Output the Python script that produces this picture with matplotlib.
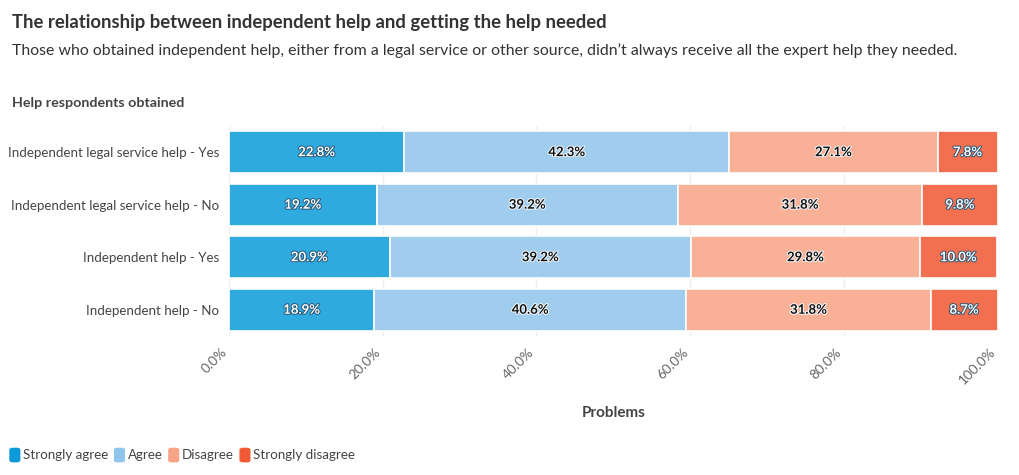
import matplotlib
matplotlib.use("Agg")
import matplotlib.pyplot as plt
import matplotlib.patheffects as pe
from matplotlib.patches import FancyBboxPatch
from matplotlib.ticker import PercentFormatter

plt.rcParams["font.family"] = ["Lato", "DejaVu Sans"]

categories = [
    "Independent legal service help - Yes",
    "Independent legal service help - No",
    "Independent help - Yes",
    "Independent help - No",
]
series = ["Strongly agree", "Agree", "Disagree", "Strongly disagree"]
strongly_agree = [22.8, 19.2, 20.9, 18.9]
agree = [42.3, 39.2, 39.2, 40.6]
disagree = [27.1, 31.8, 29.8, 31.8]
strongly_disagree = [7.8, 9.8, 10.0, 8.7]
values = [strongly_agree, agree, disagree, strongly_disagree]

bar_colors = ["#2eaade", "#a0cdee", "#f8b196", "#f26f4f"]
legend_colors = ["#0b9ad8", "#8fc4ed", "#f6a386", "#f15a34"]
dark = [True, False, False, True]

fig = plt.figure(figsize=(10.2, 4.75), dpi=100)
ax = fig.add_axes([0.2245, 0.2926, 0.7535, 0.4424])

y = list(range(len(categories)))
left = [0.0] * len(categories)
for vals, col, is_dark in zip(values, bar_colors, dark):
    bars = ax.barh(y, vals, left=left, height=0.8, color=col,
                   edgecolor="white", linewidth=1.2, zorder=3)
    for b, v in zip(bars, vals):
        cx = b.get_x() + b.get_width() / 2
        cy = b.get_y() + b.get_height() / 2
        if is_dark:
            t = ax.text(cx, cy, f"{v:.1f}%", ha="center", va="center",
                        color="white", fontsize=9.5, fontweight="bold", zorder=4)
            t.set_path_effects([pe.withStroke(linewidth=1.4, foreground="#2a5878")])
        else:
            t = ax.text(cx, cy, f"{v:.1f}%", ha="center", va="center",
                        color="#111111", fontsize=9.5, fontweight="bold", zorder=4)
            t.set_path_effects([pe.withStroke(linewidth=1.4, foreground="#f4f8fb")])
    left = [l + v for l, v in zip(left, vals)]

ax.set_xlim(0, 100)
ax.set_ylim(len(categories) - 0.5, -0.5)
ax.set_yticks(y)
ax.set_yticklabels(categories, fontsize=9.6, color="#444444")
ax.set_xticks([0, 20, 40, 60, 80, 100])
ax.xaxis.set_major_formatter(PercentFormatter(decimals=1))
for lab in ax.get_xticklabels():
    lab.set_rotation(45)
    lab.set_ha("right")
    lab.set_va("top")
    lab.set_fontsize(9.8)
    lab.set_color("#666666")
ax.tick_params(axis="both", length=0, pad=7)
ax.grid(axis="x", color="#eeeeee", linewidth=1, zorder=0)
for s in ax.spines.values():
    s.set_visible(False)

ax.set_xlabel("Problems", fontsize=11, fontweight="bold", color="#444444", labelpad=14)

fig.text(0.0118, 0.952, "The relationship between independent help and getting the help needed",
         fontsize=13.3, fontweight="bold", color="#333333", va="center")
fig.text(0.0118, 0.893,
         "Those who obtained independent help, either from a legal service or other source, didn\u2019t always receive all the expert help they needed.",
         fontsize=11.4, color="#333333", va="center")
fig.text(0.0118, 0.783, "Help respondents obtained", fontsize=10.3,
         fontweight="bold", color="#444444", va="center")

# legend
lx = 0.0098
ly = 0.042
for name, col in zip(series, legend_colors):
    fig.patches.append(FancyBboxPatch((lx, ly - 0.014), 0.0095, 0.028,
                                      boxstyle="round,pad=0,rounding_size=0.003",
                                      transform=fig.transFigure, color=col))
    t = fig.text(lx + 0.013, ly, name, fontsize=9.6, color="#444444", va="center")
    fig.canvas.draw()
    bb = t.get_window_extent()
    lx = bb.x1 / fig.bbox.width + 0.006

fig.savefig("out.png", dpi=100)
